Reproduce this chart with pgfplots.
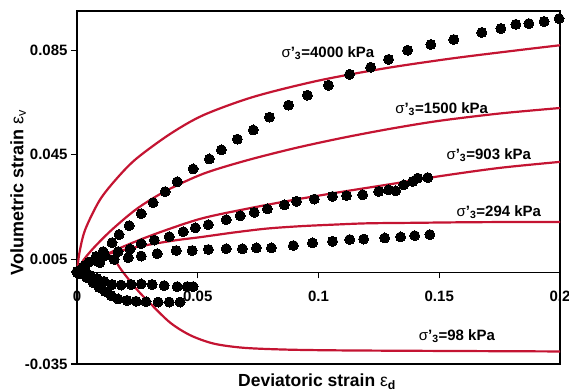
\documentclass[border=0pt]{standalone}
\usepackage{fontspec}
\setmainfont{Liberation Sans}
\usepackage{pgfplots}
\pgfplotsset{compat=1.18}
\definecolor{cred}{RGB}{196,20,50}
\newcommand{\tf}{\fontsize{15}{16}\selectfont\bfseries}
\newcommand{\af}{\fontsize{15}{16}\selectfont\bfseries}
\begin{document}
\begin{tikzpicture}
\begin{axis}[
  scale only axis, width=483pt, height=353pt,
  xmin=0, xmax=0.2, ymin=-0.035, ymax=0.1,
  clip=false,
  axis line style={line width=1.8pt},
  xtick=\empty,
  ytick={-0.035,0.005,0.045,0.085},
  yticklabels={-0.035,0.005,0.045,0.085},
  ytick pos=left, tick align=outside, major tick length=6pt,
  every tick/.style={black, line width=1.2pt},
  yticklabel style={font=\tf},
  ylabel={\bfseries Volumetric strain {\mdseries ε\textsubscript{v}}},
  ylabel style={font=\fontsize{18}{19}\selectfont, at={(axis description cs:-0.122,0.485)}, anchor=center},
  xlabel={\bfseries Deviatoric strain {\mdseries ε\textsubscript{\bfseries d}}},
  xlabel style={font=\fontsize{17.5}{19}\selectfont, at={(axis description cs:0.497,-0.051)}, anchor=center},
  crv/.style={cred, smooth, no markers, line width=2.2pt},
  dat/.style={black, only marks, mark=*, mark size=5pt, mark options={fill=black, draw=black, line width=0pt}},
]
% model curves
\addplot[crv] coordinates {(0,0)(0.001,0.0075)(0.0034,0.0164)(0.0095,0.0278)(0.017,0.0365)(0.0248,0.0437)(0.0386,0.0530)(0.0524,0.0602)(0.0732,0.0672)(0.0996,0.0733)(0.127,0.0780)(0.1548,0.0818)(0.1826,0.0850)(0.2,0.0869)};
\addplot[crv] coordinates {(0,0)(0.0025,0.0045)(0.007,0.0095)(0.0145,0.0164)(0.025,0.0245)(0.037,0.0313)(0.0524,0.0378)(0.07,0.0428)(0.09,0.0475)(0.11,0.0515)(0.13,0.0550)(0.15,0.0580)(0.175,0.0608)(0.2,0.0629)};
\addplot[crv] coordinates {(0,0)(0.002,0.002)(0.0165,0.0088)(0.0317,0.0145)(0.051,0.0205)(0.07,0.0243)(0.09,0.0278)(0.11,0.0309)(0.13,0.0338)(0.15,0.0368)(0.175,0.0400)(0.2,0.0423)};
\addplot[crv] coordinates {(0,0)(0.004,0.0035)(0.012,0.0068)(0.025,0.0098)(0.04,0.0122)(0.051,0.0135)(0.065,0.0153)(0.0787,0.0168)(0.0925,0.0177)(0.1063,0.0183)(0.1202,0.0188)(0.14,0.0190)(0.16,0.0192)(0.18,0.0193)(0.2,0.0193)};
\addplot[crv] coordinates {(0,0)(0.003,0.0035)(0.007,0.0055)(0.011,0.0061)(0.0135,0.0057)(0.016,0.0042)(0.0185,0.0008)(0.0248,-0.0065)(0.0303,-0.0118)(0.0386,-0.0192)(0.0469,-0.0240)(0.0566,-0.0272)(0.069,-0.0288)(0.087,-0.0295)(0.11,-0.0298)(0.15,-0.0300)(0.2,-0.0302)};
% test data
\addplot[dat] coordinates {(0,0.0004)(0.0025,0.002)(0.005,0.004)(0.0079,0.0061)(0.0108,0.0080)(0.0145,0.0114)(0.0174,0.0145)(0.0216,0.0179)(0.0266,0.0225)(0.0315,0.0267)(0.0365,0.0309)(0.0415,0.0347)(0.0481,0.0396)(0.0548,0.0434)(0.0598,0.0469)(0.0664,0.0510)(0.0730,0.0545)(0.0797,0.0594)(0.0876,0.0640)(0.0954,0.0678)(0.1041,0.0716)(0.1129,0.0758)(0.1216,0.0785)(0.1290,0.0815)(0.1369,0.0850)(0.1465,0.0872)(0.1560,0.0891)(0.1676,0.0918)(0.1755,0.0933)(0.1817,0.0949)(0.1871,0.0952)(0.1934,0.0960)(0.1996,0.0971)};
\addplot[dat] coordinates {(0,0)(0.0033,0.0027)(0.0075,0.0046)(0.0116,0.0065)(0.0170,0.0080)(0.0220,0.0090)(0.0266,0.0110)(0.0320,0.0124)(0.0382,0.0137)(0.0440,0.0156)(0.0490,0.0171)(0.0544,0.0183)(0.0618,0.0202)(0.0676,0.0217)(0.0734,0.0230)(0.0788,0.0243)(0.0859,0.0259)(0.0909,0.0272)(0.0983,0.0281)(0.1058,0.0291)(0.1116,0.0294)(0.1183,0.0297)(0.1249,0.0310)(0.1290,0.0316)(0.1320,0.0312)(0.1353,0.0335)(0.1390,0.0348)(0.1411,0.0361)(0.1452,0.0363)};
\addplot[dat] coordinates {(0,0)(0.0033,0.0019)(0.0095,0.0038)(0.0154,0.0050)(0.0212,0.0057)(0.0266,0.0063)(0.0332,0.0072)(0.0411,0.0084)(0.0477,0.0084)(0.0544,0.0088)(0.0618,0.0091)(0.0685,0.0091)(0.0743,0.0094)(0.0805,0.0094)(0.0896,0.0103)(0.0975,0.0113)(0.1058,0.0119)(0.1129,0.0126)(0.1187,0.0128)(0.1274,0.0132)(0.1340,0.0136)(0.1398,0.0141)(0.1461,0.0145)};
\addplot[dat] coordinates {(0,0)(0.0025,0.0)(0.0054,-0.0011)(0.0083,-0.0023)(0.0112,-0.0034)(0.0145,-0.0046)(0.0183,-0.0048)(0.0224,-0.0046)(0.0266,-0.0044)(0.0311,-0.0046)(0.0361,-0.0050)(0.0415,-0.0054)(0.0456,-0.0054)(0.0481,-0.0054)};
\addplot[dat] coordinates {(0.0012,-0.0004)(0.0041,-0.0019)(0.0066,-0.0038)(0.0091,-0.0057)(0.0116,-0.0072)(0.0141,-0.0088)(0.0170,-0.0101)(0.0207,-0.0107)(0.0245,-0.0110)(0.0286,-0.0112)(0.0336,-0.0113)(0.0382,-0.0113)(0.0427,-0.0113)};
% annotations
\node[font=\af] at (axis cs:0.1039,0.0838) {{\mdseries σ}’\textsubscript{3}=4000 kPa};
\node[font=\af] at (axis cs:0.151,0.0625) {{\mdseries σ}’\textsubscript{3}=1500 kPa};
\node[font=\af] at (axis cs:0.1705,0.0450) {{\mdseries σ}’\textsubscript{3}=903 kPa};
\node[font=\af] at (axis cs:0.1747,0.0232) {{\mdseries σ}’\textsubscript{3}=294 kPa};
\node[font=\af] at (axis cs:0.1573,-0.0244) {{\mdseries σ}’\textsubscript{3}=98 kPa};
\end{axis}
\begin{axis}[
  scale only axis, width=483pt, height=353pt,
  xmin=0, xmax=0.2, ymin=-0.035, ymax=0.1,
  axis x line=middle, axis y line=none,
  axis line style={line width=1.4pt, -},
  xtick={0,0.05,0.1,0.15,0.2}, xticklabels={0,0.05,0.1,0.15,0.2},
  hide obscured x ticks=false,
  tick align=outside, major tick length=6pt,
  every tick/.style={black, line width=1.2pt},
  xticklabel style={font=\tf, yshift=-9pt},
]
\end{axis}
\pgfresetboundingbox
\path[use as bounding box] (-77pt,-27pt) rectangle (492pt,364pt);
\end{tikzpicture}
\end{document}
